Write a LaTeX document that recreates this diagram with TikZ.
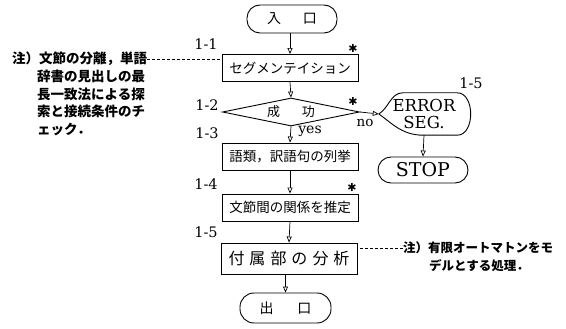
\documentclass[tikz,border=0pt]{standalone}
\usepackage{fontspec}
\newfontfamily\jp{Noto Sans CJK JP}
\newfontfamily\djv{DejaVu Sans}
\newfontfamily\dser{DejaVu Serif}
\usetikzlibrary{shapes.geometric,arrows.meta}
\begin{document}
\begin{tikzpicture}[x=1pt,y=-1pt,
  every node/.style={inner sep=0pt},
  box/.style={draw,line width=0.9pt,minimum width=136pt,minimum height=27pt,font=\jp\fontsize{13.5}{15}\selectfont},
  pill/.style={draw,line width=0.9pt,rounded corners=13pt,minimum width=90pt,minimum height=28pt},
  arr/.style={line width=0.7pt,-{Triangle[open,length=6pt,width=5pt]}},
  lab/.style={font=\dser\fontsize{14.5}{16}\selectfont},
  starmark/.style={font=\djv\fontsize{11}{11}\selectfont},
  notetext/.style={font=\jp\bfseries\fontsize{13.5}{17.5}\selectfont,align=left,anchor=north west},
  notelink/.style={line width=0.6pt,dash pattern=on 3pt off 2pt}
]
\useasboundingbox (0,0) rectangle (566,329);

% main flow
\node[pill,font=\jp\fontsize{14}{16}\selectfont] (entry) at (292,19) {入\hspace{22pt}口};
\node[box] (b1) at (290,68) {セグメンテイション};
\node[draw,line width=0.9pt,diamond,aspect=4.9,minimum width=137pt,minimum height=28pt,font=\jp\fontsize{13}{15}\selectfont] (dia) at (291,112) {成\hspace{22pt}功};
\node[box] (b3) at (290,156.5) {語類，訳語句の列挙};
\node[box] (b4) at (290,207.5) {文節間の関係を推定};
\node[box,minimum height=31pt,font=\jp\fontsize{16}{18}\selectfont] (b5) at (289,258.5) {付\hspace{5pt}属\hspace{5pt}部\hspace{5pt}の\hspace{5pt}分\hspace{5pt}析};
\node[pill,minimum width=91pt,minimum height=30pt,rounded corners=14pt,font=\jp\fontsize{14}{16}\selectfont] (exit) at (285.5,308) {出\hspace{24pt}口};

% error branch
\node[minimum width=90pt,minimum height=42pt,align=center,font=\dser\fontsize{16.5}{17}\selectfont] (err) at (424,114) {ERROR\\[0pt]SEG.};
\draw[line width=0.9pt] (err.west) .. controls +(10,-6) and +(-12,0) .. ([xshift=24pt]err.north west)
  -- ([xshift=-12pt]err.north east) .. controls +(18,0) and +(18,0) .. ([xshift=-12pt]err.south east)
  -- ([xshift=-46pt]err.south east) .. controls +(-22,0) and +(12,8) .. (err.west);
\node[pill,minimum width=90pt,minimum height=26pt,font=\dser\fontsize{19}{20}\selectfont] (stop) at (423,170) {STOP};

% connectors
\draw[arr] (entry.south -| b1) -- (b1.north);
\draw[arr] (b1.south) -- (dia.north);
\draw[arr] (dia.south) -- (b3.north);
\draw[arr] (b3.south) -- (b4.north);
\draw[arr] (b4.south) -- (b5.north);
\draw[arr] (b5.south -| exit.north) -- (exit.north);
\draw[arr] (dia.east) -- (err.west);
\draw[arr] (err.south) -- (stop.north);

% labels
\node[lab] (l11) at (206,44) {1-1};
\node[lab] (l12) at (207,105) {1-2};
\node[lab] (l13) at (207,133) {1-3};
\node[lab] (l14) at (206,184) {1-4};
\node[lab] (l15) at (206,232) {1-5};
\node[lab] (l15e) at (471,83) {1-5};
\node[lab,font=\dser\fontsize{14}{15}\selectfont] (yes) at (310,131) {yes};
\node[lab,font=\dser\fontsize{13.5}{15}\selectfont] (no) at (365,123) {no};
\node[starmark] (s1) at (353,48) {✱};
\node[starmark] (s2) at (353,101) {✱};
\node[starmark] (s4) at (352,187) {✱};

% note 1
\node[notetext] (n1a) at (12,52) {注）文節の分離，単語};
\node[notetext] (n1b) at (37,70) {辞書の見出しの最\\長一致法による探\\索と接続条件のチ\\ェック．};
\draw[notelink] (n1a.east) -- (n1a.east -| b1.west);

% note 2
\node[notetext,font=\jp\bfseries\fontsize{12.5}{17}\selectfont] (n2a) at (403,242) {注）有限オートマトンをモ};
\node[notetext,font=\jp\bfseries\fontsize{12.5}{17}\selectfont] (n2b) at (429,259) {デルとする処理．};
\draw[notelink] (n2a.west) -- (n2a.west -| b5.east);
\end{tikzpicture}
\end{document}
